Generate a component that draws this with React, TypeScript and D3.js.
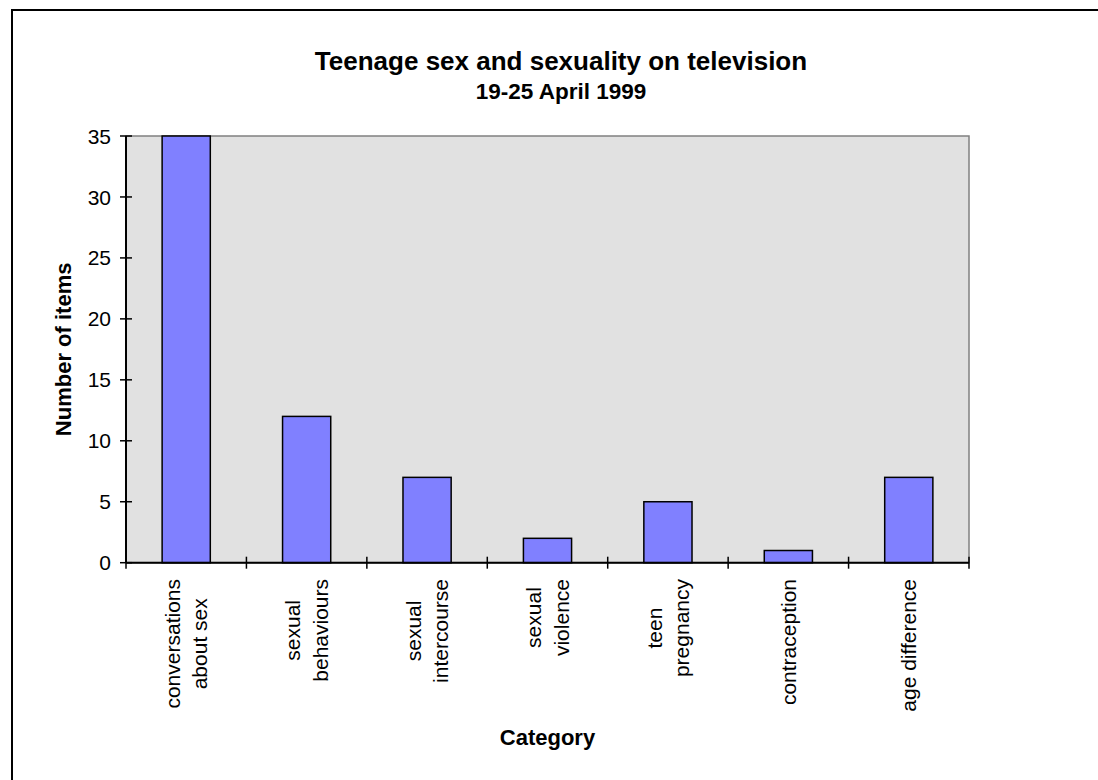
import React, { useEffect, useRef } from "react";
import * as d3 from "d3";

const categories: string[][] = [
  ["conversations", "about sex"],
  ["sexual", "behaviours"],
  ["sexual", "intercourse"],
  ["sexual", "violence"],
  ["teen", "pregnancy"],
  ["contraception"],
  ["age difference"],
];
const values: number[] = [35, 12, 7, 2, 5, 1, 7];
const yTicks: number[] = [0, 5, 10, 15, 20, 25, 30, 35];
const title = "Teenage sex and sexuality on television";
const subtitle = "19-25 April 1999";
const yTitle = "Number of items";
const xTitle = "Category";

const W = 1098;
const H = 780;
const FONT = "'Liberation Sans', Arial, sans-serif";

export default function App() {
  const ref = useRef<SVGSVGElement | null>(null);

  useEffect(() => {
    const svg = d3.select(ref.current);
    svg.selectAll("*").remove();

    const left = 126, right = 969, top = 136, bottom = 562.7;
    const keys = categories.map((c) => c.join(" "));
    const x = d3.scaleBand<string>().domain(keys).range([left, right]).paddingInner(0.6).paddingOuter(0.3);
    const y = d3.scaleLinear().domain([0, 35]).range([bottom, top]);

    // outer frame (extends beyond right/bottom)
    svg.append("rect").attr("x", 12).attr("y", 10).attr("width", W + 20).attr("height", H + 20)
      .attr("fill", "#fff").attr("stroke", "#000").attr("stroke-width", 2);

    // plot area
    svg.append("rect").attr("x", left).attr("y", top).attr("width", right - left).attr("height", bottom - top)
      .attr("fill", "#e1e1e1").attr("stroke", "#808080").attr("stroke-width", 1.5);

    // bars
    svg.append("g").selectAll("rect").data(values).join("rect")
      .attr("x", (_d, i) => x(keys[i])!)
      .attr("y", (d) => y(d))
      .attr("width", x.bandwidth())
      .attr("height", (d) => y(0) - y(d))
      .attr("fill", "#8080ff").attr("stroke", "#000").attr("stroke-width", 1.5);

    // y axis
    svg.append("line").attr("x1", left).attr("x2", left).attr("y1", top).attr("y2", bottom)
      .attr("stroke", "#000").attr("stroke-width", 2);
    const yg = svg.append("g");
    yTicks.forEach((t) => {
      yg.append("line").attr("x1", left - 6).attr("x2", left + 6).attr("y1", y(t)).attr("y2", y(t))
        .attr("stroke", "#000").attr("stroke-width", 1.5);
      yg.append("text").attr("x", 111).attr("y", y(t)).attr("dy", "0.36em")
        .attr("text-anchor", "end").attr("font-family", FONT).attr("font-size", 21)
        .attr("fill", "#000").text(String(t));
    });

    // x axis
    svg.append("line").attr("x1", left).attr("x2", right).attr("y1", bottom).attr("y2", bottom)
      .attr("stroke", "#000").attr("stroke-width", 2);
    const step = x.step();
    for (let i = 0; i <= keys.length; i++) {
      const xx = left + i * step;
      svg.append("line").attr("x1", xx).attr("x2", xx).attr("y1", bottom - 6).attr("y2", bottom + 6)
        .attr("stroke", "#000").attr("stroke-width", 1.5);
    }

    // category labels
    const lh = 27.5;
    categories.forEach((lines, i) => {
      const cx = x(keys[i])! + x.bandwidth() / 2;
      const g = svg.append("g");
      const texts = lines.map((ln) =>
        g.append("text").attr("font-family", FONT).attr("font-size", 21).attr("fill", "#000")
          .attr("text-anchor", "middle").text(ln)
      );
      const maxLen = d3.max(texts, (t) => (t.node() as SVGTextElement).getComputedTextLength()) || 0;
      const cy = 579 + maxLen / 2;
      texts.forEach((t, j) => {
        const bx = cx + (j - (lines.length - 1) / 2) * lh + 7.5;
        t.attr("transform", `translate(${bx},${cy}) rotate(-90)`);
      });
    });

    // titles
    svg.append("text").attr("x", 561).attr("y", 70).attr("text-anchor", "middle")
      .attr("font-family", FONT).attr("font-weight", "bold").attr("font-size", 26).text(title);
    svg.append("text").attr("x", 561).attr("y", 99).attr("text-anchor", "middle")
      .attr("font-family", FONT).attr("font-weight", "bold").attr("font-size", 22.5).text(subtitle);
    svg.append("text").attr("transform", `translate(71,${(top + bottom) / 2}) rotate(-90)`)
      .attr("text-anchor", "middle").attr("font-family", FONT).attr("font-weight", "bold")
      .attr("font-size", 22).text(yTitle);
    svg.append("text").attr("x", (left + right) / 2).attr("y", 745).attr("text-anchor", "middle")
      .attr("font-family", FONT).attr("font-weight", "bold").attr("font-size", 22).text(xTitle);
  }, []);

  return (
    <svg ref={ref} width={W} height={H} style={{ position: "absolute", left: 0, top: 0, background: "#fff" }} />
  );
}
